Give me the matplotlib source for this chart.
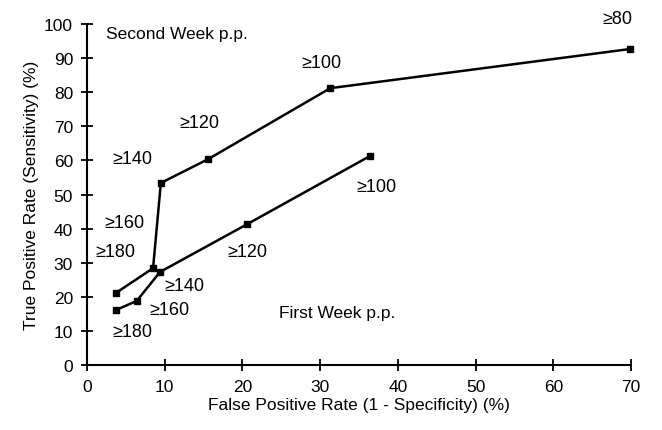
import matplotlib
matplotlib.use('Agg')
import matplotlib.pyplot as plt

plt.rcParams['font.family'] = ['Liberation Sans', 'DejaVu Sans']

# second week p.p.
week2_fpr = [3.7, 8.5, 9.5, 15.6, 31.3, 69.9]
week2_tpr = [21.1, 28.4, 53.4, 60.4, 81.2, 92.7]
week2_labels = ['≥180', '≥160', '≥140', '≥120', '≥100', '≥80']

# first week p.p.
week1_fpr = [3.7, 6.4, 9.4, 20.6, 36.4]
week1_tpr = [16.1, 18.8, 27.3, 41.3, 61.3]
week1_labels = ['≥180', '≥160', '≥140', '≥120', '≥100']

week2_text_pos = [(3.6, 33.4), (4.8, 41.9), (5.8, 60.7), (14.5, 71.0), (30.1, 88.6), (68.2, 101.5)]
week1_text_pos = [(5.8, 9.7), (10.6, 16.4), (12.5, 23.2), (20.6, 33.4), (37.2, 52.5)]

fig = plt.figure(figsize=(6.62, 4.31), dpi=100)
ax = fig.add_axes([0.1314, 0.1508, 0.822, 0.791])

ax.plot(week2_fpr, week2_tpr, color='black', lw=1.8, marker='s', ms=4, clip_on=False)
ax.plot(week1_fpr, week1_tpr, color='black', lw=1.8, marker='s', ms=4, clip_on=False)

for (x, y), s in zip(week2_text_pos, week2_labels):
    ax.text(x, y, s, fontsize=13, ha='center', va='center')
for (x, y), s in zip(week1_text_pos, week1_labels):
    ax.text(x, y, s, fontsize=13, ha='center', va='center')

ax.text(11.6, 97.1, 'Second Week p.p.', fontsize=12.5, ha='center', va='center')
ax.text(32.2, 15.5, 'First Week p.p.', fontsize=12.5, ha='center', va='center')

ax.set_xlim(0, 70)
ax.set_ylim(0, 100)
ax.set_xticks(range(0, 71, 10))
ax.set_yticks(range(0, 101, 10))
for side in ['top', 'right']:
    ax.spines[side].set_visible(False)
for side in ['left', 'bottom']:
    ax.spines[side].set_linewidth(1.5)
ax.tick_params(direction='inout', length=8, width=1.3, labelsize=12.5, pad=6)
ax.set_xlabel('False Positive Rate (1 - Specificity) (%)', fontsize=12.5, labelpad=2)
ax.set_ylabel('True Positive Rate (Sensitivity) (%)', fontsize=12.5, labelpad=4)

fig.savefig('out.png', dpi=100)
